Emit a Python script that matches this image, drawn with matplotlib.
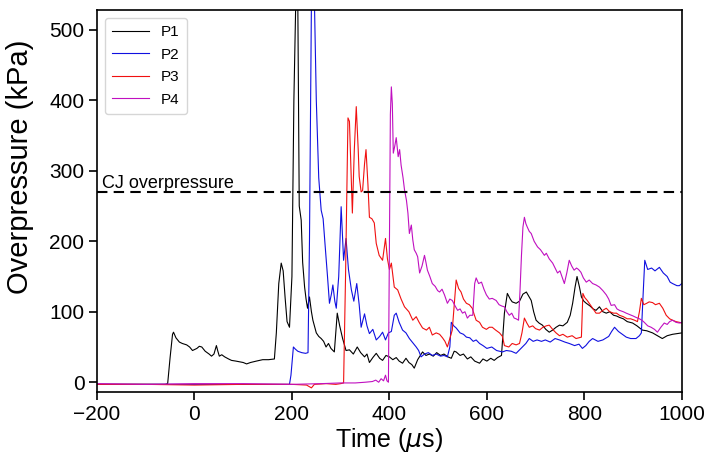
import matplotlib
matplotlib.use("Agg")
import matplotlib.pyplot as plt

plt.rcParams['font.family'] = ['Liberation Sans', 'DejaVu Sans']

# time (us) and overpressure (kPa)
t1 = [-200, -150, -100, -60, -55, -50, -45, -43, -38, -31, -25, -16, -10, -4, 5, 10, 15, 22, 30, 35,
      40, 45, 48, 51, 56, 62, 70, 76, 85, 92, 100, 107, 115, 127, 140, 152, 164, 168, 173, 178,
      182, 186, 190, 195, 200, 204, 208, 212, 215, 219, 222, 226, 229, 232, 236, 240, 243, 250, 255, 260,
      265, 270, 275, 280, 287, 293, 298, 304, 311, 318, 326, 334, 341, 349, 354, 359, 366, 373, 380, 386,
      393, 400, 407, 414, 420, 427, 434, 440, 446, 451, 458, 468, 475, 482, 490, 497, 505, 512, 520, 527,
      533, 537, 545, 552, 560, 567, 575, 585, 592, 600, 608, 615, 622, 630, 636, 642, 648, 652, 660, 667,
      674, 681, 686, 691, 696, 701, 707, 714, 721, 728, 735, 742, 749, 756, 765, 771, 776, 781, 785, 790,
      794, 799, 804, 812, 818, 824, 831, 838, 845, 852, 860, 866, 872, 880, 888, 899, 908, 919, 928, 940,
      950, 960, 970, 981, 990, 1000]
p1 = [-3, -3, -3, -3, -2, 35, 68, 71, 63, 57, 55, 53, 50, 45, 48, 51, 50, 44, 40, 37,
      40, 52, 44, 37, 39, 36, 33, 31, 30, 29, 28, 26, 28, 30, 32, 32, 33, 70, 140, 169,
      158, 120, 86, 78, 150, 400, 545, 545, 250, 230, 170, 135, 118, 105, 121, 100, 88, 70, 65, 62,
      58, 50, 55, 48, 43, 98, 80, 62, 45, 46, 40, 50, 42, 36, 40, 28, 35, 41, 34, 31,
      38, 36, 32, 35, 30, 27, 34, 28, 25, 20, 32, 43, 38, 40, 37, 42, 38, 40, 36, 34,
      44, 43, 38, 40, 33, 36, 30, 27, 33, 30, 34, 31, 35, 38, 98, 126, 118, 114, 112, 115,
      125, 128, 122, 116, 100, 88, 84, 81, 75, 71, 74, 78, 81, 80, 85, 95, 112, 135, 150, 135,
      121, 115, 112, 108, 104, 102, 107, 100, 98, 100, 95, 94, 92, 90, 86, 84, 80, 74, 73, 70,
      66, 62, 66, 68, 69, 70]

t2 = [-200, 0, 100, 195, 198, 203, 207, 212, 220, 228, 233, 236, 240, 246, 250, 255, 260, 264, 268, 273,
      277, 281, 284, 288, 291, 296, 301, 306, 311, 316, 322, 327, 333, 338, 342, 349, 354, 359, 366, 373,
      380, 386, 392, 398, 404, 410, 414, 420, 427, 434, 441, 448, 455, 460, 465, 472, 480, 488, 496, 505,
      512, 519, 524, 527, 532, 537, 545, 552, 558, 565, 572, 578, 585, 592, 600, 610, 620, 632, 640, 650,
      660, 670, 680, 687, 695, 703, 712, 720, 730, 740, 749, 760, 769, 780, 789, 796, 803, 810, 817, 828,
      838, 850, 856, 862, 870, 878, 886, 895, 906, 913, 917, 921, 924, 930, 938, 945, 954, 962, 970, 976,
      981, 990, 995, 1000]
p2 = [-3, -3, -3, -3, 10, 50, 47, 44, 42, 41, 42, 200, 540, 545, 400, 290, 244, 232, 195, 150,
      112, 125, 138, 115, 105, 150, 249, 173, 204, 160, 131, 115, 140, 110, 78, 97, 80, 69, 75, 60,
      65, 71, 60, 70, 72, 95, 98, 85, 74, 70, 62, 56, 50, 45, 36, 40, 42, 38, 40, 37,
      38, 36, 50, 85, 80, 77, 70, 68, 64, 63, 58, 60, 55, 52, 48, 50, 45, 43, 45, 44,
      41, 48, 55, 62, 58, 60, 58, 60, 57, 62, 60, 57, 55, 52, 54, 48, 52, 58, 62, 58,
      60, 65, 72, 78, 72, 68, 64, 62, 62, 66, 70, 130, 173, 160, 162, 158, 163, 155, 150, 142,
      140, 137, 137, 140]

t3 = [-200, -100, 0, 100, 200, 230, 240, 246, 270, 290, 300, 306, 310, 315, 318, 322, 324, 328, 332, 336,
      338, 342, 345, 349, 352, 356, 359, 364, 369, 373, 379, 386, 392, 396, 400, 404, 410, 417, 424, 431,
      440, 448, 455, 461, 468, 476, 482, 488, 496, 503, 509, 514, 519, 524, 529, 533, 537, 542, 547, 552,
      558, 564, 570, 574, 578, 585, 591, 599, 605, 611, 618, 626, 632, 636, 645, 652, 660, 667, 672, 677,
      682, 687, 694, 700, 708, 715, 722, 728, 735, 742, 749, 756, 765, 775, 783, 794, 797, 801, 806, 812,
      818, 824, 831, 838, 845, 852, 860, 866, 872, 880, 888, 895, 903, 909, 913, 917, 922, 928, 933, 940,
      946, 954, 961, 968, 975, 981, 988, 995, 1000]
p3 = [-3, -3, -4, -3, -3, -4, -8, -3, -2, -3, -2, -1, 150, 375, 370, 280, 240, 330, 391, 330,
      292, 270, 272, 310, 330, 280, 234, 232, 226, 197, 180, 173, 204, 175, 160, 169, 135, 131, 118, 107,
      100, 88, 93, 85, 77, 74, 78, 67, 70, 68, 63, 58, 50, 62, 74, 110, 145, 133, 128, 118,
      112, 110, 105, 96, 88, 85, 78, 75, 78, 78, 74, 70, 65, 52, 50, 55, 53, 55, 70, 91,
      84, 78, 80, 76, 74, 78, 80, 81, 75, 70, 66, 68, 64, 66, 62, 64, 126, 120, 116, 110,
      104, 98, 98, 102, 105, 100, 98, 98, 95, 93, 90, 90, 88, 86, 100, 119, 110, 112, 114, 113,
      110, 112, 105, 95, 90, 88, 86, 85, 84]

t4 = [-200, -100, 0, 100, 200, 260, 300, 330, 350, 365, 372, 378, 383, 388, 392, 395, 398, 400, 402, 404,
      406, 408, 411, 414, 418, 421, 424, 428, 431, 435, 438, 441, 445, 448, 451, 455, 458, 462, 467, 472,
      475, 478, 483, 488, 494, 499, 503, 508, 513, 519, 524, 529, 535, 540, 545, 550, 555, 560, 565, 571,
      575, 578, 583, 589, 594, 599, 605, 611, 619, 625, 631, 636, 641, 646, 651, 656, 660, 665, 668, 671,
      674, 677, 680, 683, 687, 691, 697, 704, 710, 718, 722, 728, 735, 740, 745, 750, 755, 759, 764, 769,
      774, 779, 784, 788, 793, 798, 804, 810, 817, 824, 831, 838, 845, 850, 855, 862, 867, 872, 880, 886,
      893, 900, 906, 913, 918, 923, 930, 937, 944, 950, 957, 964, 970, 975, 981, 988, 995, 1000]
p4 = [-2, -3, -2, -2, -3, -2, -1, -1, 0, 1, 3, 0, 5, 2, 10, 2, 0, 200, 380, 419,
      395, 325, 335, 347, 320, 330, 308, 290, 273, 258, 240, 211, 223, 202, 188, 183, 178, 155, 165, 180,
      170, 159, 150, 140, 136, 130, 128, 132, 124, 112, 118, 116, 108, 102, 104, 98, 100, 91, 95, 95,
      140, 148, 140, 142, 132, 124, 118, 119, 116, 110, 108, 107, 100, 95, 98, 91, 90, 88, 130, 180,
      220, 234, 225, 220, 214, 211, 200, 192, 188, 180, 183, 175, 169, 162, 155, 158, 148, 140, 155, 173,
      165, 159, 162, 160, 156, 148, 142, 145, 140, 138, 135, 130, 124, 118, 109, 110, 104, 102, 100, 98,
      96, 94, 92, 90, 88, 85, 80, 78, 75, 71, 78, 84, 82, 86, 88, 85, 84, 85]

cj_pressure = 270

fig = plt.figure(figsize=(7.08, 4.57), dpi=100)
ax = fig.add_axes([0.137, 0.142, 0.826, 0.836])

ax.plot(t1, p1, color='k', lw=0.8, label='P1')
ax.plot(t2, p2, color='#1010e0', lw=0.8, label='P2')
ax.plot(t3, p3, color='#f01010', lw=0.8, label='P3')
ax.plot(t4, p4, color='#c010c0', lw=0.8, label='P4')

ax.axhline(cj_pressure, color='k', ls='--', lw=1.5, dashes=(5, 3))
ax.text(-190, cj_pressure + 6, 'CJ overpressure', fontsize=13)

ax.set_xlim(-200, 1000)
ax.set_ylim(-14, 528)
ax.set_xticks([-200, 0, 200, 400, 600, 800, 1000])
ax.set_yticks([0, 100, 200, 300, 400, 500])
ax.tick_params(labelsize=15, length=6, width=1.2, pad=3)
for s in ax.spines.values():
    s.set_linewidth(1.2)

ax.set_xlabel(r'Time ($\mu$s)', fontsize=18, labelpad=2)
ax.set_ylabel('Overpressure (kPa)', fontsize=21)
ax.yaxis.set_label_coords(-0.108, 0.59)
ax.legend(loc='upper left', fontsize=11, handlelength=2.4, borderpad=0.5, labelspacing=0.55)

fig.savefig('out.png', dpi=100)
